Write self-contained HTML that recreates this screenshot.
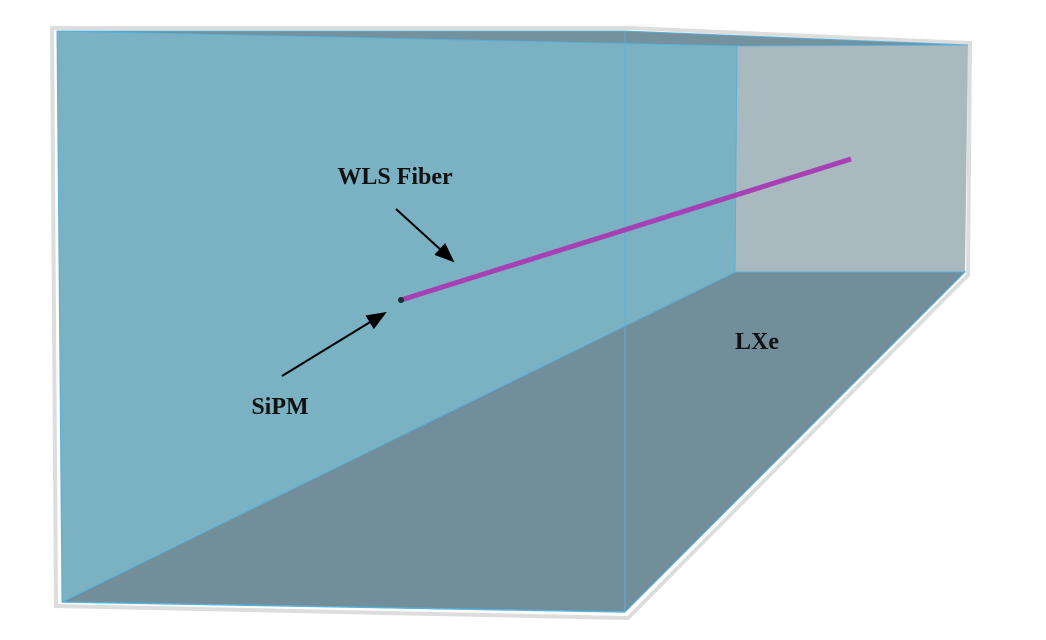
<!DOCTYPE html>
<html><head><meta charset="utf-8"><style>
html,body{margin:0;padding:0;background:#fff;width:1046px;height:640px;overflow:hidden}
text{font-family:"Liberation Serif",serif;font-weight:bold;fill:#111}
</style></head><body>
<svg width="1046" height="640" viewBox="0 0 1046 640">
<defs><marker id="ah" markerWidth="10" markerHeight="8" refX="9" refY="4" orient="auto"><path d="M0,0 L10,4 L0,8 z" fill="#000"/></marker></defs>
<polygon points="52,28 628,28 970,43 968,275 628,618 56,606" fill="none" stroke="#ddd" stroke-width="4"/>
<polygon points="737,46 968,45 965,272 735,272" fill="#a9b9c0"/>
<polygon points="62,602 735,272 965,272 625,612" fill="#728e9a" stroke="#5ab0d8" stroke-width="1"/>
<polygon points="57,31 737,46 735,272 62,602" fill="#7ab2c4" stroke="#5ab0d8" stroke-width="1"/>
<polygon points="57,31 625,31 968,45 737,46" fill="#74919e" stroke="#5ab0d8" stroke-width="1"/>
<line x1="625" y1="31" x2="625" y2="612" stroke="#5ab0d8" stroke-width="1"/>
<line x1="62" y1="602" x2="625" y2="612" stroke="#5ab0d8" stroke-width="1.5"/>
<line x1="401" y1="300" x2="851" y2="159" stroke="#a640b4" stroke-width="5"/>
<circle cx="401" cy="300" r="3" fill="#1a2a30"/>
<line x1="396" y1="209" x2="453" y2="261" stroke="#000" stroke-width="2" marker-end="url(#ah)"/>
<line x1="282" y1="376" x2="385" y2="313" stroke="#000" stroke-width="2" marker-end="url(#ah)"/>
<text x="395" y="184" font-size="24" text-anchor="middle">WLS Fiber</text>
<text x="280" y="414" font-size="24" text-anchor="middle">SiPM</text>
<text x="757" y="349" font-size="24" text-anchor="middle">LXe</text>
</svg>
</body></html>
